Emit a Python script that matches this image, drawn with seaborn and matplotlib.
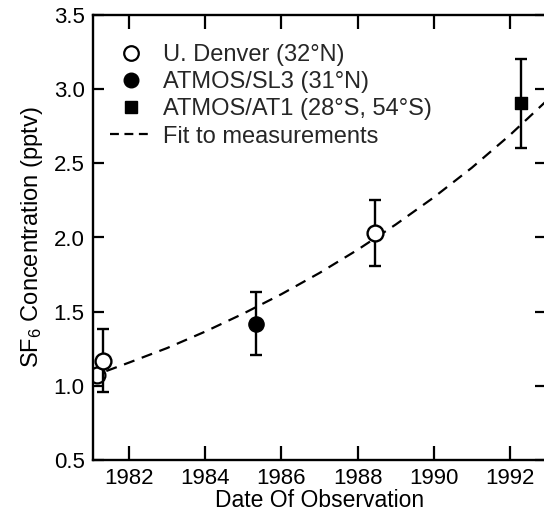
import numpy as np
import pandas as pd
import matplotlib
matplotlib.use("Agg")
import matplotlib.pyplot as plt
import seaborn as sns
from matplotlib.lines import Line2D
from matplotlib.legend_handler import HandlerLine2D

# ---- data ----
denver_year = [1981.15, 1981.32, 1988.47]
denver_val = [1.07, 1.17, 2.03]
denver_err = [0.0, 0.21, 0.22]

sl3_year = [1985.32]
sl3_val = [1.42]
sl3_err = [0.215]

at1_year = [1992.29]
at1_val = [2.905]
at1_err = [0.30]

fit_year = [1981.4, 1982, 1983, 1984, 1985, 1986, 1987, 1988, 1989, 1990, 1991, 1992, 1993]
fit_val = [1.10, 1.157, 1.255, 1.366, 1.487, 1.618, 1.761, 1.917, 2.087, 2.27, 2.47, 2.69, 2.93]

x_ticks = [1982, 1984, 1986, 1988, 1990, 1992]
y_ticks = [0.5, 1.0, 1.5, 2.0, 2.5, 3.0, 3.5]

labels = ["U. Denver (32°N)", "ATMOS/SL3 (31°N)", "ATMOS/AT1 (28°S, 54°S)", "Fit to measurements"]

sns.set_style("ticks")
plt.rcParams['font.family'] = ['Liberation Sans', 'DejaVu Sans']
plt.rcParams['mathtext.fontset'] = 'custom'
plt.rcParams['mathtext.rm'] = 'Liberation Sans'
plt.rcParams['mathtext.it'] = 'Liberation Sans'

fig = plt.figure(figsize=(5.44, 5.13), dpi=100)
ax = fig.add_axes([93/544, 53/513, (546-93)/544, 445/513])

# fit line
fit_df = pd.DataFrame({"year": fit_year, "val": fit_val})
sns.lineplot(data=fit_df, x="year", y="val", ax=ax, color="black", lw=1.6,
             linestyle=(0, (5, 3.5)), zorder=2)

# error bars
def draw_err(xs, ys, es):
    xs = np.array(xs); ys = np.array(ys); es = np.array(es)
    m = es > 0
    ax.errorbar(xs[m], ys[m], yerr=es[m], fmt='none', ecolor='black',
                elinewidth=1.7, capsize=4, capthick=1.7, zorder=3)

den_df = pd.DataFrame({"year": denver_year, "val": denver_val})
sl3_df = pd.DataFrame({"year": sl3_year, "val": sl3_val})
at1_df = pd.DataFrame({"year": at1_year, "val": at1_val})

# partly hidden first denver point behind the errorbars
sns.scatterplot(data=den_df.iloc[:1], x="year", y="val", ax=ax, marker='o', s=130,
                facecolor='white', edgecolor='black', linewidth=1.6, zorder=2.5)
draw_err(denver_year, denver_val, denver_err)
draw_err(sl3_year, sl3_val, sl3_err)
draw_err(at1_year, at1_val, at1_err)

sns.scatterplot(data=den_df.iloc[1:], x="year", y="val", ax=ax, marker='o', s=130,
                facecolor='white', edgecolor='black', linewidth=1.7, zorder=4)
sns.scatterplot(data=sl3_df, x="year", y="val", ax=ax, marker='o', s=120,
                color='black', edgecolor='black', linewidth=1, zorder=4)
sns.scatterplot(data=at1_df, x="year", y="val", ax=ax, marker='s', s=85,
                color='black', edgecolor='black', linewidth=1, zorder=4)

ax.set_xlim(1981.05, 1992.95)
ax.set_ylim(0.5, 3.5)
ax.set_xticks(x_ticks)
ax.set_yticks(y_ticks)
ax.set_yticklabels([f"{v:.1f}" for v in y_ticks])
ax.set_xticklabels([str(v) for v in x_ticks])

for s in ax.spines.values():
    s.set_linewidth(1.7)
    s.set_color('black')

ax.tick_params(axis='x', direction='in', length=10, width=1.6, top=True, bottom=True,
               labelsize=16, pad=6, colors='black')
ax.tick_params(axis='y', direction='in', length=8, width=1.6, left=True, right=True,
               labelsize=16, pad=6, colors='black')

ax.set_xlabel("Date Of Observation", fontsize=16.5, labelpad=0, color='black')
ax.set_ylabel("SF$_6$ Concentration (pptv)", fontsize=17, labelpad=6, color='black')


class RightMarker(HandlerLine2D):
    def get_xdata(self, legend, xdescent, ydescent, width, height, fontsize):
        xdata, _ = super().get_xdata(legend, xdescent, ydescent, width, height, fontsize)
        return xdata, np.array([-xdescent + width - 3])


h1 = Line2D([], [], ls='none', marker='o', markersize=10.5, mfc='white', mec='black', mew=1.6)
h2 = Line2D([], [], ls='none', marker='o', markersize=10.5, mfc='black', mec='black')
h3 = Line2D([], [], ls='none', marker='s', markersize=8.5, mfc='black', mec='black')
h4 = Line2D([], [], color='black', lw=1.6, linestyle=(0, (4, 2.5)))
leg = ax.legend([h1, h2, h3, h4], labels, loc='upper left',
                bbox_to_anchor=((110-93)/453, (460-44)/445), frameon=False,
                fontsize=17, handlelength=1.75, handletextpad=0.5, labelspacing=0.22,
                borderpad=0, borderaxespad=0,
                handler_map={h1: RightMarker(numpoints=1), h2: RightMarker(numpoints=1),
                             h3: RightMarker(numpoints=1)})

fig.savefig("out.png", dpi=100, facecolor='white')
